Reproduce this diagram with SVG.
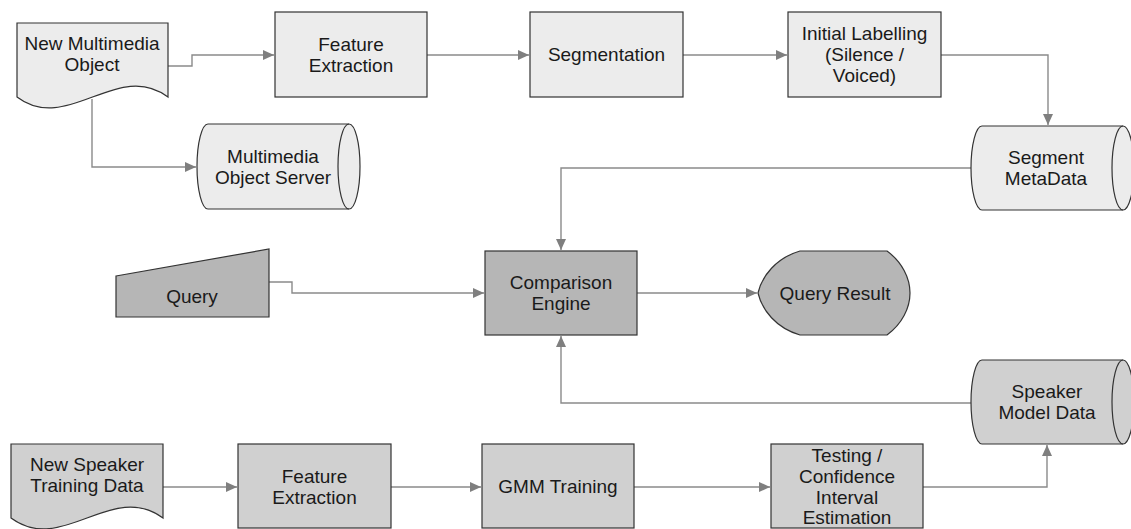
<svg xmlns="http://www.w3.org/2000/svg" width="1131" height="529" viewBox="0 0 1131 529">
<defs>
<marker id="arr" markerWidth="12" markerHeight="10" refX="11" refY="5" orient="auto" markerUnits="userSpaceOnUse">
<path d="M0,0 L11,5 L0,10 Z" fill="#7f7f7f"/>
</marker>
<style>
.t{font-family:"Liberation Sans",Arial,sans-serif;font-size:19px;fill:#1a1a1a;text-anchor:middle}
.s{stroke:#333333;stroke-width:1.2}
.l1{fill:#ececec}
.l2{fill:#b6b6b6}
.l3{fill:#d0d0d0}
.c{fill:none;stroke:#8a8a8a;stroke-width:1.4;marker-end:url(#arr)}
.in{fill:none;stroke:#333333;stroke-width:1.2}
</style>
</defs>
<rect width="1131" height="529" fill="#ffffff"/>

<g id="connectors">
<path class="c" d="M168,66 H192 V55 H274"/>
<path class="c" d="M92,99 V167 H196"/>
<path class="c" d="M427,55 H529"/>
<path class="c" d="M683,55 H787"/>
<path class="c" d="M941,55 H1048 V125"/>
<path class="c" d="M971,168 H561 V250"/>
<path class="c" d="M269,282 H292 V293 H484"/>
<path class="c" d="M637,293 H757"/>
<path class="c" d="M971,403 H561 V336"/>
<path class="c" d="M163,487 H237"/>
<path class="c" d="M391,487 H481"/>
<path class="c" d="M634,487 H770"/>
<path class="c" d="M923,487 H1047 V445"/>
</g>

<g id="new-multimedia-object">
<path class="s l1" d="M17,23 H168 V97 C118,59 67,135 17,97 Z"/>
<text class="t" x="92" y="50">New Multimedia</text>
<text class="t" x="92" y="71">Object</text>
</g>

<g id="feature-extraction-1">
<rect class="s l1" x="275" y="12" width="152" height="85"/>
<text class="t" x="351" y="51">Feature</text>
<text class="t" x="351" y="72">Extraction</text>
</g>

<g id="segmentation">
<rect class="s l1" x="530" y="12" width="153" height="85"/>
<text class="t" x="606.5" y="61">Segmentation</text>
</g>

<g id="initial-labelling">
<rect class="s l1" x="788" y="12" width="153" height="85"/>
<text class="t" x="864.5" y="40">Initial Labelling</text>
<text class="t" x="864.5" y="61">(Silence /</text>
<text class="t" x="864.5" y="82">Voiced)</text>
</g>

<g id="multimedia-object-server">
<path class="s l1" d="M208,124 H349 A11,42.5 0 0 1 349,209 H208 A11,42.5 0 0 1 208,124 Z"/>
<path class="in" d="M349,124 A11,42.5 0 0 0 349,209"/>
<text class="t" x="273" y="163">Multimedia</text>
<text class="t" x="273" y="184">Object Server</text>
</g>

<g id="segment-metadata">
<path class="s l1" d="M982,126 H1123 A11,42 0 0 1 1123,210 H982 A11,42 0 0 1 982,126 Z"/>
<path class="in" d="M1123,126 A11,42 0 0 0 1123,210"/>
<text class="t" x="1046" y="164">Segment</text>
<text class="t" x="1046" y="185">MetaData</text>
</g>

<g id="query">
<path class="s l2" d="M116,276 L269,249 V317 H116 Z"/>
<text class="t" x="192" y="303">Query</text>
</g>

<g id="comparison-engine">
<rect class="s l2" x="485" y="251" width="152" height="84"/>
<text class="t" x="561" y="289">Comparison</text>
<text class="t" x="561" y="310">Engine</text>
</g>

<g id="query-result">
<path class="s l2" d="M800,251 H887 C902,262 910,278 910,293 C910,308 902,324 887,335 H800 C776,328 762,310 758,293 C762,276 776,258 800,251 Z"/>
<text class="t" x="835" y="300">Query Result</text>
</g>

<g id="speaker-model-data">
<path class="s l3" d="M982,360 H1123 A11,42 0 0 1 1123,444 H982 A11,42 0 0 1 982,360 Z"/>
<path class="in" d="M1123,360 A11,42 0 0 0 1123,444"/>
<text class="t" x="1047" y="398">Speaker</text>
<text class="t" x="1047" y="419">Model Data</text>
</g>

<g id="new-speaker-training-data">
<path class="s l3" d="M11,444 H163 V518 C112,480 62,556 11,518 Z"/>
<text class="t" x="87" y="471">New Speaker</text>
<text class="t" x="87" y="492">Training Data</text>
</g>

<g id="feature-extraction-2">
<rect class="s l3" x="238" y="444" width="153" height="84"/>
<text class="t" x="314.5" y="483">Feature</text>
<text class="t" x="314.5" y="504">Extraction</text>
</g>

<g id="gmm-training">
<rect class="s l3" x="482" y="444" width="152" height="84"/>
<text class="t" x="558" y="493">GMM Training</text>
</g>

<g id="testing-confidence">
<rect class="s l3" x="771" y="444" width="152" height="84"/>
<text class="t" x="847" y="462">Testing /</text>
<text class="t" x="847" y="483">Confidence</text>
<text class="t" x="847" y="504">Interval</text>
<text class="t" x="847" y="524">Estimation</text>
</g>
</svg>
